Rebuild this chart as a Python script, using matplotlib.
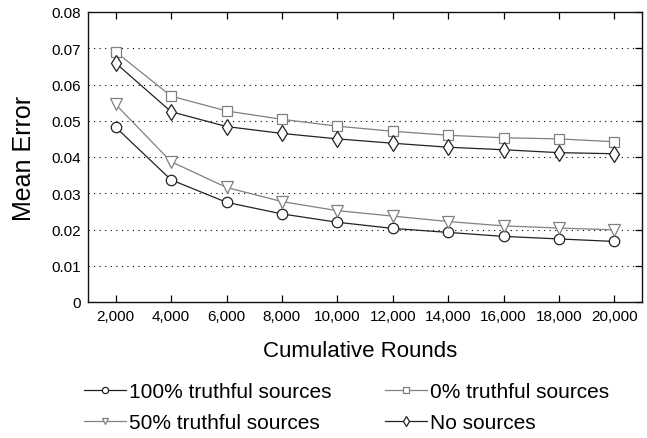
import matplotlib
matplotlib.use("Agg")
import matplotlib.pyplot as plt
from matplotlib.ticker import FuncFormatter

plt.rcParams['font.family'] = ['Liberation Sans', 'DejaVu Sans']

rounds = [2000, 4000, 6000, 8000, 10000, 12000, 14000, 16000, 18000, 20000]
truth100 = [0.0482, 0.0337, 0.0275, 0.0243, 0.0220, 0.0203, 0.0192, 0.0181, 0.0174, 0.0167]
truth50 = [0.0545, 0.0387, 0.0316, 0.0277, 0.0252, 0.0237, 0.0222, 0.0210, 0.0204, 0.0199]
truth0 = [0.0690, 0.0568, 0.0527, 0.0504, 0.0485, 0.0471, 0.0460, 0.0453, 0.0450, 0.0442]
nosrc = [0.0659, 0.0525, 0.0484, 0.0465, 0.0450, 0.0438, 0.0427, 0.0420, 0.0412, 0.0409]

labels = ["100% truthful sources", "50% truthful sources", "0% truthful sources", "No sources"]
yticks = [0, 0.01, 0.02, 0.03, 0.04, 0.05, 0.06, 0.07, 0.08]

fig = plt.figure(figsize=(6.47, 4.39), dpi=100)
ax = fig.add_axes([88/647, 1-303/439, 554/647, 290/439])

dark = '#222222'
gray = '#808080'
ms = 7.5
h1, = ax.plot(rounds, truth100, color=dark, lw=0.9, marker='o', ms=ms, mfc='white', mec=dark, mew=0.9)
h2, = ax.plot(rounds, truth50, color=gray, lw=0.9, marker='v', ms=ms+0.5, mfc='white', mec=gray, mew=0.9)
h3, = ax.plot(rounds, truth0, color=gray, lw=0.9, marker='s', ms=ms, mfc='white', mec=gray, mew=0.9)
h4, = ax.plot(rounds, nosrc, color=dark, lw=0.9, marker='d', ms=ms+1, mfc='white', mec=dark, mew=0.9)

ax.set_xlim(1000, 21000)
ax.set_ylim(0, 0.08)
ax.set_xticks(rounds)
ax.xaxis.set_major_formatter(FuncFormatter(lambda v, p: f"{int(v):,}"))
ax.set_yticks(yticks)
ax.yaxis.set_major_formatter(FuncFormatter(lambda v, p: "0" if v == 0 else f"{v:.2f}"))

for y in yticks[1:-1]:
    ax.axhline(y, color='black', lw=0.8, ls=(0, (1, 4)), zorder=0)

ax.tick_params(axis='both', direction='in', labelsize=11, length=5, width=0.9, pad=5,
               top=True, right=True, left=False)
for s in ax.spines.values():
    s.set_linewidth(1.0)
    s.set_color('#111111')

fig.text((263+458)/2/647, 1-352/439, "Cumulative Rounds", ha='center', va='center', fontsize=16)
fig.text(24/647, 1-158/439, "Mean Error", ha='center', va='center', fontsize=18, rotation=90)

fig.legend([h1, h2, h3, h4], labels, ncol=2, frameon=False, fontsize=15,
           loc='upper left', bbox_to_anchor=(84/647, 1-383/439),
           handlelength=2.0, handletextpad=0.15, columnspacing=2.6,
           labelspacing=0.6, markerscale=0.6, borderaxespad=0, borderpad=0)

fig.savefig("out.png", dpi=100)
